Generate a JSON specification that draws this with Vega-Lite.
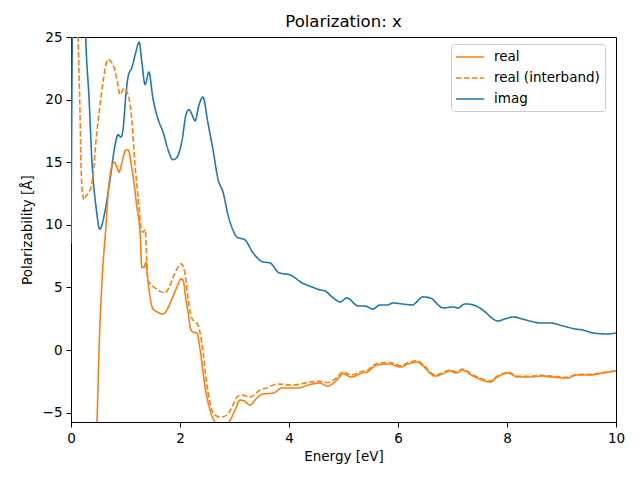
{
  "$schema": "https://vega.github.io/schema/vega-lite/v6.json",
  "autosize": {"type": "none"},
  "padding": {"left": 71, "top": 37, "right": 24, "bottom": 58},
  "width": 545,
  "height": 385,
  "config": {
    "font": "DejaVu Sans",
    "view": {"stroke": "#000", "strokeWidth": 1},
    "axis": {"grid": false, "domainColor": "#000", "tickColor": "#000", "labelColor": "#000", "titleColor": "#000", "labelFontSize": 13.5, "titleFontSize": 13.5, "titleFontWeight": "normal", "tickSize": 5, "labelPadding": 4, "domainWidth": 1, "tickWidth": 1, "labelFlush": false, "labelOverlap": false}
  },
  "title": {"text": "Polarization: x", "fontSize": 16.5, "fontWeight": "normal", "anchor": "middle", "offset": 0, "color": "#000"},
  "datasets": {
    "pts": [
      {"s": "imag", "e": 0, "v": 8.5}, {"s": "imag", "e": 0.037, "v": 30}, {"s": "imag", "e": 0.13, "v": 40}, {"s": "imag", "e": 0.24, "v": 30}, {"s": "imag", "e": 0.27, "v": 25}, {"s": "imag", "e": 0.33, "v": 20.2}, {"s": "imag", "e": 0.385, "v": 15.0}, {"s": "imag", "e": 0.46, "v": 11.4}, {"s": "imag", "e": 0.53, "v": 9.65}, {"s": "imag", "e": 0.62, "v": 11.0}, {"s": "imag", "e": 0.716, "v": 13.6}, {"s": "imag", "e": 0.81, "v": 16.4}, {"s": "imag", "e": 0.862, "v": 17.2}, {"s": "imag", "e": 0.917, "v": 17.0}, {"s": "imag", "e": 0.954, "v": 17.6}, {"s": "imag", "e": 1.01, "v": 20.5}, {"s": "imag", "e": 1.046, "v": 21.8}, {"s": "imag", "e": 1.12, "v": 22.6}, {"s": "imag", "e": 1.19, "v": 23.8}, {"s": "imag", "e": 1.25, "v": 24.6}, {"s": "imag", "e": 1.3, "v": 23.0}, {"s": "imag", "e": 1.36, "v": 21.2}, {"s": "imag", "e": 1.43, "v": 22.2}, {"s": "imag", "e": 1.5, "v": 20.2}, {"s": "imag", "e": 1.6, "v": 18.4}, {"s": "imag", "e": 1.69, "v": 17.4}, {"s": "imag", "e": 1.78, "v": 16.0}, {"s": "imag", "e": 1.87, "v": 15.2}, {"s": "imag", "e": 1.945, "v": 15.4}, {"s": "imag", "e": 2.04, "v": 16.8}, {"s": "imag", "e": 2.11, "v": 18.8}, {"s": "imag", "e": 2.165, "v": 19.2}, {"s": "imag", "e": 2.22, "v": 18.8}, {"s": "imag", "e": 2.275, "v": 18.3}, {"s": "imag", "e": 2.35, "v": 19.6}, {"s": "imag", "e": 2.42, "v": 20.2}, {"s": "imag", "e": 2.51, "v": 18.2}, {"s": "imag", "e": 2.605, "v": 16.0}, {"s": "imag", "e": 2.7, "v": 13.6}, {"s": "imag", "e": 2.79, "v": 12.6}, {"s": "imag", "e": 2.88, "v": 10.8}, {"s": "imag", "e": 2.97, "v": 9.6}, {"s": "imag", "e": 3.05, "v": 9.0}, {"s": "imag", "e": 3.19, "v": 8.8}, {"s": "imag", "e": 3.34, "v": 7.76}, {"s": "imag", "e": 3.52, "v": 7.04}, {"s": "imag", "e": 3.65, "v": 6.96}, {"s": "imag", "e": 3.82, "v": 6.16}, {"s": "imag", "e": 4.02, "v": 6.0}, {"s": "imag", "e": 4.24, "v": 5.36}, {"s": "imag", "e": 4.42, "v": 5.04}, {"s": "imag", "e": 4.57, "v": 4.8}, {"s": "imag", "e": 4.66, "v": 4.72}, {"s": "imag", "e": 4.79, "v": 4.24}, {"s": "imag", "e": 4.94, "v": 3.84}, {"s": "imag", "e": 5.06, "v": 4.16}, {"s": "imag", "e": 5.27, "v": 3.52}, {"s": "imag", "e": 5.39, "v": 3.52}, {"s": "imag", "e": 5.54, "v": 3.28}, {"s": "imag", "e": 5.67, "v": 3.6}, {"s": "imag", "e": 5.8, "v": 3.6}, {"s": "imag", "e": 5.91, "v": 3.76}, {"s": "imag", "e": 6.07, "v": 3.68}, {"s": "imag", "e": 6.26, "v": 3.6}, {"s": "imag", "e": 6.46, "v": 4.24}, {"s": "imag", "e": 6.59, "v": 4.16}, {"s": "imag", "e": 6.83, "v": 3.36}, {"s": "imag", "e": 7.01, "v": 3.44}, {"s": "imag", "e": 7.1, "v": 3.36}, {"s": "imag", "e": 7.23, "v": 3.68}, {"s": "imag", "e": 7.38, "v": 3.6}, {"s": "imag", "e": 7.6, "v": 3.04}, {"s": "imag", "e": 7.72, "v": 2.56}, {"s": "imag", "e": 7.83, "v": 2.32}, {"s": "imag", "e": 7.96, "v": 2.48}, {"s": "imag", "e": 8.11, "v": 2.64}, {"s": "imag", "e": 8.28, "v": 2.48}, {"s": "imag", "e": 8.42, "v": 2.32}, {"s": "imag", "e": 8.61, "v": 2.16}, {"s": "imag", "e": 8.79, "v": 2.16}, {"s": "imag", "e": 9.03, "v": 1.92}, {"s": "imag", "e": 9.25, "v": 1.68}, {"s": "imag", "e": 9.39, "v": 1.6}, {"s": "imag", "e": 9.58, "v": 1.36}, {"s": "imag", "e": 9.83, "v": 1.28}, {"s": "imag", "e": 10.0, "v": 1.36},

      {"s": "real", "e": 0.44, "v": -9}, {"s": "real", "e": 0.477, "v": -5.76}, {"s": "real", "e": 0.514, "v": 0}, {"s": "real", "e": 0.57, "v": 5.6}, {"s": "real", "e": 0.64, "v": 9.8}, {"s": "real", "e": 0.7, "v": 13.4}, {"s": "real", "e": 0.79, "v": 15.0}, {"s": "real", "e": 0.844, "v": 14.6}, {"s": "real", "e": 0.88, "v": 14.2}, {"s": "real", "e": 0.936, "v": 15.0}, {"s": "real", "e": 1.01, "v": 16.0}, {"s": "real", "e": 1.046, "v": 16.0}, {"s": "real", "e": 1.12, "v": 14.4}, {"s": "real", "e": 1.21, "v": 11.4}, {"s": "real", "e": 1.27, "v": 9.2}, {"s": "real", "e": 1.3, "v": 6.6}, {"s": "real", "e": 1.34, "v": 6.6}, {"s": "real", "e": 1.376, "v": 7.0}, {"s": "real", "e": 1.41, "v": 5.6}, {"s": "real", "e": 1.45, "v": 4.24}, {"s": "real", "e": 1.5, "v": 3.3}, {"s": "real", "e": 1.58, "v": 3.04}, {"s": "real", "e": 1.69, "v": 2.88}, {"s": "real", "e": 1.76, "v": 3.2}, {"s": "real", "e": 1.82, "v": 3.76}, {"s": "real", "e": 1.945, "v": 5.04}, {"s": "real", "e": 2.02, "v": 5.7}, {"s": "real", "e": 2.055, "v": 5.6}, {"s": "real", "e": 2.11, "v": 4.0}, {"s": "real", "e": 2.15, "v": 2.96}, {"s": "real", "e": 2.2, "v": 1.6}, {"s": "real", "e": 2.26, "v": 1.4}, {"s": "real", "e": 2.31, "v": 1.36}, {"s": "real", "e": 2.37, "v": 0}, {"s": "real", "e": 2.46, "v": -2.96}, {"s": "real", "e": 2.55, "v": -4.8}, {"s": "real", "e": 2.62, "v": -5.6}, {"s": "real", "e": 2.73, "v": -6.2}, {"s": "real", "e": 2.84, "v": -6.0}, {"s": "real", "e": 2.92, "v": -5.6}, {"s": "real", "e": 3.01, "v": -4.8}, {"s": "real", "e": 3.1, "v": -4.0}, {"s": "real", "e": 3.19, "v": -4.1}, {"s": "real", "e": 3.28, "v": -4.4}, {"s": "real", "e": 3.41, "v": -3.84}, {"s": "real", "e": 3.52, "v": -3.52}, {"s": "real", "e": 3.71, "v": -3.44}, {"s": "real", "e": 3.87, "v": -3.04}, {"s": "real", "e": 4.15, "v": -3.04}, {"s": "real", "e": 4.39, "v": -2.75}, {"s": "real", "e": 4.57, "v": -2.64}, {"s": "real", "e": 4.7, "v": -2.88}, {"s": "real", "e": 4.88, "v": -2.4}, {"s": "real", "e": 4.99, "v": -1.9}, {"s": "real", "e": 5.14, "v": -2.16}, {"s": "real", "e": 5.34, "v": -1.84}, {"s": "real", "e": 5.43, "v": -1.76}, {"s": "real", "e": 5.61, "v": -1.2}, {"s": "real", "e": 5.85, "v": -1.12}, {"s": "real", "e": 6.04, "v": -1.36}, {"s": "real", "e": 6.18, "v": -1.12}, {"s": "real", "e": 6.35, "v": -0.96}, {"s": "real", "e": 6.44, "v": -1.2}, {"s": "real", "e": 6.68, "v": -2.08}, {"s": "real", "e": 6.81, "v": -1.92}, {"s": "real", "e": 6.95, "v": -1.68}, {"s": "real", "e": 7.08, "v": -1.84}, {"s": "real", "e": 7.17, "v": -1.6}, {"s": "real", "e": 7.38, "v": -2.08}, {"s": "real", "e": 7.54, "v": -2.4}, {"s": "real", "e": 7.69, "v": -2.56}, {"s": "real", "e": 7.82, "v": -2.16}, {"s": "real", "e": 8.02, "v": -1.84}, {"s": "real", "e": 8.2, "v": -2.16}, {"s": "real", "e": 8.42, "v": -2.16}, {"s": "real", "e": 8.64, "v": -2.08}, {"s": "real", "e": 8.84, "v": -2.16}, {"s": "real", "e": 9.1, "v": -2.24}, {"s": "real", "e": 9.28, "v": -2.0}, {"s": "real", "e": 9.52, "v": -2.0}, {"s": "real", "e": 9.76, "v": -1.84}, {"s": "real", "e": 10.0, "v": -1.68},

      {"s": "real (interband)", "e": 0.09, "v": 32}, {"s": "real (interband)", "e": 0.128, "v": 25}, {"s": "real (interband)", "e": 0.165, "v": 19}, {"s": "real (interband)", "e": 0.18, "v": 15.5}, {"s": "real (interband)", "e": 0.2, "v": 13.0}, {"s": "real (interband)", "e": 0.24, "v": 12.0}, {"s": "real (interband)", "e": 0.275, "v": 12.3}, {"s": "real (interband)", "e": 0.33, "v": 12.6}, {"s": "real (interband)", "e": 0.367, "v": 13.0}, {"s": "real (interband)", "e": 0.42, "v": 14.6}, {"s": "real (interband)", "e": 0.46, "v": 16.8}, {"s": "real (interband)", "e": 0.495, "v": 18.2}, {"s": "real (interband)", "e": 0.55, "v": 20.2}, {"s": "real (interband)", "e": 0.587, "v": 21.4}, {"s": "real (interband)", "e": 0.68, "v": 23.2}, {"s": "real (interband)", "e": 0.77, "v": 22.8}, {"s": "real (interband)", "e": 0.844, "v": 21.6}, {"s": "real (interband)", "e": 0.9, "v": 20.4}, {"s": "real (interband)", "e": 0.97, "v": 20.9}, {"s": "real (interband)", "e": 1.03, "v": 20.6}, {"s": "real (interband)", "e": 1.12, "v": 18.2}, {"s": "real (interband)", "e": 1.17, "v": 15.0}, {"s": "real (interband)", "e": 1.23, "v": 12.3}, {"s": "real (interband)", "e": 1.28, "v": 10.0}, {"s": "real (interband)", "e": 1.32, "v": 9.4}, {"s": "real (interband)", "e": 1.36, "v": 9.6}, {"s": "real (interband)", "e": 1.41, "v": 5.6}, {"s": "real (interband)", "e": 1.47, "v": 5.2}, {"s": "real (interband)", "e": 1.54, "v": 4.96}, {"s": "real (interband)", "e": 1.63, "v": 4.7}, {"s": "real (interband)", "e": 1.72, "v": 4.56}, {"s": "real (interband)", "e": 1.8, "v": 5.0}, {"s": "real (interband)", "e": 1.87, "v": 5.76}, {"s": "real (interband)", "e": 1.96, "v": 6.6}, {"s": "real (interband)", "e": 2.02, "v": 6.88}, {"s": "real (interband)", "e": 2.07, "v": 6.56}, {"s": "real (interband)", "e": 2.18, "v": 3.2}, {"s": "real (interband)", "e": 2.22, "v": 2.5}, {"s": "real (interband)", "e": 2.275, "v": 2.24}, {"s": "real (interband)", "e": 2.33, "v": 2.0}, {"s": "real (interband)", "e": 2.4, "v": 0.56}, {"s": "real (interband)", "e": 2.5, "v": -2.96}, {"s": "real (interband)", "e": 2.61, "v": -5.04}, {"s": "real (interband)", "e": 2.73, "v": -5.36}, {"s": "real (interband)", "e": 2.86, "v": -5.2}, {"s": "real (interband)", "e": 2.97, "v": -4.4}, {"s": "real (interband)", "e": 3.06, "v": -3.7}, {"s": "real (interband)", "e": 3.14, "v": -3.6}, {"s": "real (interband)", "e": 3.28, "v": -3.76}, {"s": "real (interband)", "e": 3.47, "v": -3.2}, {"s": "real (interband)", "e": 3.61, "v": -3.0}, {"s": "real (interband)", "e": 3.78, "v": -2.72}, {"s": "real (interband)", "e": 4.07, "v": -2.8}, {"s": "real (interband)", "e": 4.39, "v": -2.56}, {"s": "real (interband)", "e": 4.57, "v": -2.5}, {"s": "real (interband)", "e": 4.7, "v": -2.6}, {"s": "real (interband)", "e": 4.88, "v": -2.2}, {"s": "real (interband)", "e": 4.99, "v": -1.75}, {"s": "real (interband)", "e": 5.14, "v": -2.0}, {"s": "real (interband)", "e": 5.34, "v": -1.7}, {"s": "real (interband)", "e": 5.43, "v": -1.62}, {"s": "real (interband)", "e": 5.61, "v": -1.08}, {"s": "real (interband)", "e": 5.85, "v": -1.0}, {"s": "real (interband)", "e": 6.04, "v": -1.26}, {"s": "real (interband)", "e": 6.18, "v": -1.02}, {"s": "real (interband)", "e": 6.35, "v": -0.86}, {"s": "real (interband)", "e": 6.44, "v": -1.1}, {"s": "real (interband)", "e": 6.68, "v": -2.0}, {"s": "real (interband)", "e": 6.81, "v": -1.84}, {"s": "real (interband)", "e": 6.95, "v": -1.6}, {"s": "real (interband)", "e": 7.08, "v": -1.76}, {"s": "real (interband)", "e": 7.17, "v": -1.52}, {"s": "real (interband)", "e": 7.38, "v": -2.0}, {"s": "real (interband)", "e": 7.54, "v": -2.32}, {"s": "real (interband)", "e": 7.69, "v": -2.48}, {"s": "real (interband)", "e": 7.82, "v": -2.1}, {"s": "real (interband)", "e": 8.02, "v": -1.78}, {"s": "real (interband)", "e": 8.2, "v": -2.1}, {"s": "real (interband)", "e": 8.42, "v": -2.1}, {"s": "real (interband)", "e": 8.64, "v": -2.02}, {"s": "real (interband)", "e": 8.84, "v": -2.1}, {"s": "real (interband)", "e": 9.1, "v": -2.18}, {"s": "real (interband)", "e": 9.28, "v": -1.95}, {"s": "real (interband)", "e": 9.52, "v": -1.95}, {"s": "real (interband)", "e": 9.76, "v": -1.8}, {"s": "real (interband)", "e": 10.0, "v": -1.65}
    ]
  },
  "data": {"name": "pts"},
  "mark": {"type": "line", "clip": true, "strokeWidth": 1.6, "interpolate": "monotone"},
  "encoding": {
    "x": {"field": "e", "type": "quantitative", "title": "Energy [eV]", "scale": {"domain": [0, 10], "nice": false, "zero": false}, "axis": {"values": [0, 2, 4, 6, 8, 10], "titlePadding": 5}},
    "y": {"field": "v", "type": "quantitative", "title": "Polarizability [Å]", "scale": {"domain": [-5.75, 25], "nice": false, "zero": false}, "axis": {"values": [-5, 0, 5, 10, 15, 20, 25], "titlePadding": 8}},
    "color": {"field": "s", "type": "nominal", "scale": {"domain": ["real", "real (interband)", "imag"], "range": ["#ff7f0e", "#ff7f0e", "#1f77b4"]}, "legend": {"title": null, "orient": "none", "legendX": 380, "legendY": 7, "symbolType": "M-2,0H2", "symbolSize": 196, "symbolOffset": 6, "symbolStrokeWidth": 1.6, "labelFontSize": 13.5, "labelOffset": 16, "padding": 5, "rowPadding": 6, "strokeColor": "#cccccc", "fillColor": "#ffffff", "cornerRadius": 3, "labelColor": "#000"}},
    "strokeDash": {"field": "s", "type": "nominal", "scale": {"domain": ["real", "real (interband)", "imag"], "range": [[1, 0], [5.5, 2.4], [1, 0]]}, "legend": {"title": null, "orient": "none", "legendX": 380, "legendY": 7, "symbolType": "M-2,0H2", "symbolSize": 196, "symbolOffset": 6, "symbolStrokeWidth": 1.6, "labelFontSize": 13.5, "labelOffset": 16, "padding": 5, "rowPadding": 6, "strokeColor": "#cccccc", "fillColor": "#ffffff", "cornerRadius": 3, "labelColor": "#000"}}
  }
}
